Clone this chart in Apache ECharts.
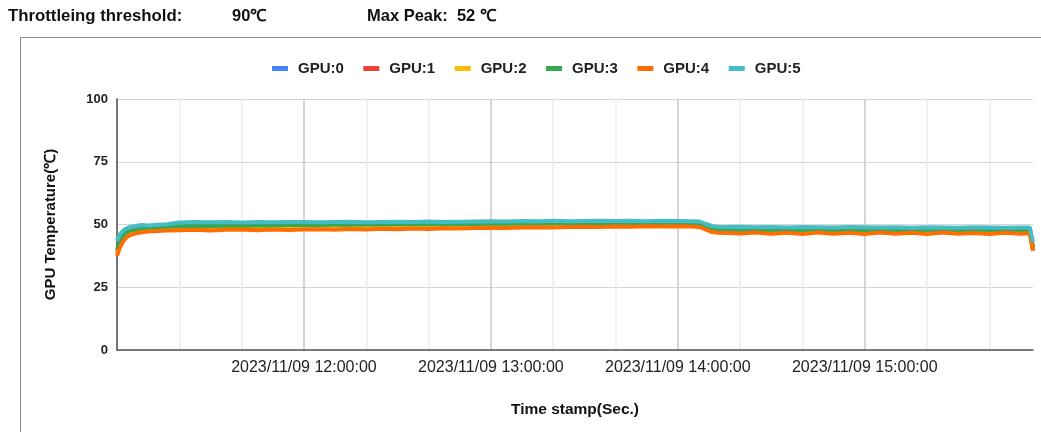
<!DOCTYPE html>
<html>
<head>
<meta charset="utf-8">
<script src="https://cdn.jsdelivr.net/npm/echarts@6/dist/echarts.min.js"></script>
<style>
html,body{margin:0;padding:0;background:#fff;}
#chart{width:1041px;height:432px;}
</style>
</head>
<body>
<div id="chart"></div>
<script>
// ---- Data ----
const timestamps = [
  "11:00","11:01","11:02","11:03","11:04","11:06","11:08","11:10","11:13","11:16",
  "11:20","11:25","11:30","11:35","11:40","11:45","11:50","11:55",
  "12:00","12:05","12:10","12:15","12:20","12:25","12:30","12:35","12:40","12:45","12:50","12:55",
  "13:00","13:05","13:10","13:15","13:20","13:25","13:30","13:35","13:40","13:45","13:50","13:55",
  "14:00","14:04","14:07","14:09","14:11","14:13","14:16",
  "14:20","14:25","14:30","14:35","14:40","14:45","14:50","14:55",
  "15:00","15:05","15:10","15:15","15:20","15:25","15:30","15:35","15:40","15:45","15:50",
  "15:53","15:54"
];
const seriesNames = ["GPU:0","GPU:1","GPU:2","GPU:3","GPU:4","GPU:5"];
const gpu0 = [
  39.5,43.0,45.2,46.4,47.1,47.8,48.2,48.5,48.7,48.9,
  49.1,49.3,49.2,49.4,49.3,49.5,49.4,49.6,
  49.7,49.6,49.8,49.7,49.9,49.8,49.9,50.0,49.9,50.0,50.1,50.0,
  50.2,50.1,50.3,50.2,50.4,50.3,50.4,50.5,50.4,50.5,50.4,50.5,
  50.4,50.3,50.1,49.0,48.0,47.7,47.6,
  47.6,47.5,47.7,47.5,47.6,47.4,47.6,47.5,
  47.6,47.4,47.5,47.6,47.4,47.5,47.6,47.4,47.5,47.6,47.5,
  47.5,40.5
];
const gpu1 = [
  38.5,42.0,44.3,45.6,46.4,47.1,47.5,47.8,48.0,48.2,
  48.3,48.5,48.3,48.6,48.5,48.4,48.6,48.5,
  48.6,48.7,48.6,48.8,48.7,48.9,48.8,49.0,48.9,49.1,49.0,49.2,
  49.3,49.2,49.4,49.5,49.4,49.6,49.7,49.6,49.8,49.7,49.9,49.8,
  49.9,49.8,49.6,48.5,47.5,47.2,47.1,
  47.0,47.2,46.9,47.1,46.9,47.2,47.0,47.1,
  46.9,47.2,47.0,47.1,46.9,47.2,47.0,47.1,46.9,47.1,47.0,
  47.0,40.0
];
const gpu2 = [
  39.0,42.5,44.8,46.0,46.8,47.5,47.9,48.2,48.4,48.6,
  48.8,49.0,48.9,49.1,49.0,49.1,49.0,49.2,
  49.3,49.2,49.4,49.3,49.5,49.4,49.5,49.6,49.5,49.6,49.7,49.6,
  49.8,49.7,49.9,49.8,50.0,49.9,50.0,50.1,50.0,50.1,50.0,50.1,
  50.0,49.9,49.7,48.7,47.7,47.4,47.3,
  47.3,47.2,47.4,47.2,47.3,47.1,47.3,47.2,
  47.3,47.1,47.2,47.3,47.1,47.2,47.3,47.1,47.2,47.3,47.2,
  47.2,40.2
];
const gpu3 = [
  40.0,43.5,45.6,46.8,47.5,48.1,48.5,48.7,48.9,49.1,
  49.3,49.5,49.4,49.6,49.5,49.7,49.6,49.8,
  49.9,49.8,50.0,49.9,50.1,50.0,50.1,50.2,50.1,50.2,50.3,50.2,
  50.4,50.3,50.5,50.4,50.6,50.5,50.6,50.7,50.6,50.7,50.6,50.7,
  50.6,50.5,50.3,49.2,48.2,47.9,47.8,
  47.8,47.7,47.9,47.7,47.8,47.6,47.8,47.7,
  47.8,47.6,47.7,47.8,47.6,47.7,47.8,47.6,47.7,47.8,47.7,
  47.7,41.0
];
const gpu4 = [
  37.5,41.0,43.4,44.8,45.7,46.5,46.9,47.2,47.4,47.6,
  47.7,47.9,47.6,47.9,48.0,47.7,48.0,47.8,
  48.0,48.1,47.9,48.2,48.0,48.3,48.1,48.4,48.2,48.5,48.4,48.6,
  48.7,48.6,48.8,48.9,48.8,49.0,49.1,49.0,49.2,49.1,49.3,49.2,
  49.3,49.2,49.0,48.0,47.0,46.7,46.6,
  46.4,46.8,46.3,46.7,46.2,46.8,46.3,46.7,
  46.2,46.8,46.3,46.7,46.2,46.8,46.3,46.6,46.2,46.7,46.3,
  46.5,39.5
];
const gpu5 = [
  43.5,46.2,47.6,48.4,49.0,49.4,49.8,49.6,49.9,50.1,
  50.8,51.0,50.9,51.0,50.8,51.0,50.9,51.0,
  51.0,50.9,51.0,51.1,50.9,51.0,51.1,51.0,51.2,51.0,51.1,51.2,
  51.3,51.2,51.4,51.3,51.5,51.3,51.4,51.5,51.4,51.5,51.3,51.5,
  51.4,51.3,51.2,50.2,49.4,49.1,49.0,
  49.1,48.9,49.0,48.8,49.0,48.9,48.8,49.0,
  48.9,48.8,48.9,48.7,48.9,48.8,48.7,48.9,48.8,48.7,48.8,
  48.8,43.0
];
const yTicks = [0, 25, 50, 75, 100];
const datePrefix = "2023/11/09";
const headerThreshold = "90℃";
const headerPeak = "52 ℃";

// ---- Build ----
const toMin = s => { const p = s.split(":"); return (+p[0]) * 60 + (+p[1]); };
const xs = timestamps.map(toMin);
const allValues = [gpu0, gpu1, gpu2, gpu3, gpu4, gpu5];
const colors = ["#4285F4", "#EA4335", "#FBBC04", "#34A853", "#FF6D01", "#46BDC6"];
const pad = n => (n < 10 ? "0" : "") + n;
const xMin = xs[0], xMax = xs[xs.length - 1];

const chart = echarts.init(document.getElementById("chart"), null, { renderer: "canvas" });
const font = "'Liberation Sans', Arial, sans-serif";

chart.setOption({
  animation: false,
  backgroundColor: "#fff",
  color: colors,
  textStyle: { fontFamily: font },
  graphic: [
    { type: "rect", silent: true, z: -1, shape: { x: 20.5, y: 37.5, width: 1040, height: 420 },
      style: { fill: "none", stroke: "#8a8a8a", lineWidth: 1 } },
    { type: "text", left: 8, top: 8, style: { text: "Throttleing threshold:", font: "bold 16.8px " + font, fill: "#111" } },
    { type: "text", left: 232, top: 8, style: { text: headerThreshold, font: "bold 16.5px " + font, fill: "#111" } },
    { type: "text", left: 367, top: 8, style: { text: "Max Peak:  " + headerPeak, font: "bold 16.5px " + font, fill: "#111" } }
  ],
  legend: {
    top: 56,
    left: 267,
    icon: "rect",
    itemWidth: 16,
    itemHeight: 5,
    itemGap: 19.5,
    textStyle: { fontSize: 15, fontWeight: "bold", color: "#222", fontFamily: font, padding: [0, 0, 0, 5] },
    data: seriesNames
  },
  grid: { left: 117, right: 8, top: 99, bottom: 82, containLabel: false },
  xAxis: {
    type: "value",
    min: xMin,
    max: xMax,
    interval: 20,
    name: "Time stamp(Sec.)",
    nameLocation: "middle",
    nameGap: 52,
    nameTextStyle: { fontSize: 15.5, fontWeight: "bold", color: "#111" },
    axisLine: { show: true, lineStyle: { color: "#555", width: 1.5 } },
    axisTick: { show: false },
    axisLabel: {
      fontSize: 16, color: "#222", margin: 10, showMinLabel: false, showMaxLabel: false,
      formatter: v => (v % 60 === 0 && v !== xMin) ? datePrefix + " " + pad(Math.floor(v / 60)) + ":00:00" : ""
    },
    splitLine: { show: true, showMaxLine: false, lineStyle: { color: ["#c9c9c9", "#ececec", "#ececec"], width: 1.5 } }
  },
  yAxis: {
    type: "value",
    min: yTicks[0],
    max: yTicks[yTicks.length - 1],
    interval: yTicks[1] - yTicks[0],
    name: "GPU Temperature(℃)",
    nameLocation: "middle",
    nameGap: 59,
    nameTextStyle: { fontSize: 15, fontWeight: "bold", color: "#111" },
    axisLine: { show: true, lineStyle: { color: "#555", width: 1.5 } },
    axisTick: { show: false },
    axisLabel: { fontSize: 13, fontWeight: "bold", color: "#222", margin: 9 },
    splitLine: { show: true, lineStyle: { color: "#d6d6d6", width: 1 } }
  },
  series: seriesNames.map((name, i) => ({
    name: name,
    type: "line",
    showSymbol: false,
    symbol: "none",
    lineStyle: { width: 4, color: colors[i] },
    itemStyle: { color: colors[i] },
    data: xs.map((x, j) => [x, allValues[i][j]])
  }))
});
</script>
</body>
</html>
